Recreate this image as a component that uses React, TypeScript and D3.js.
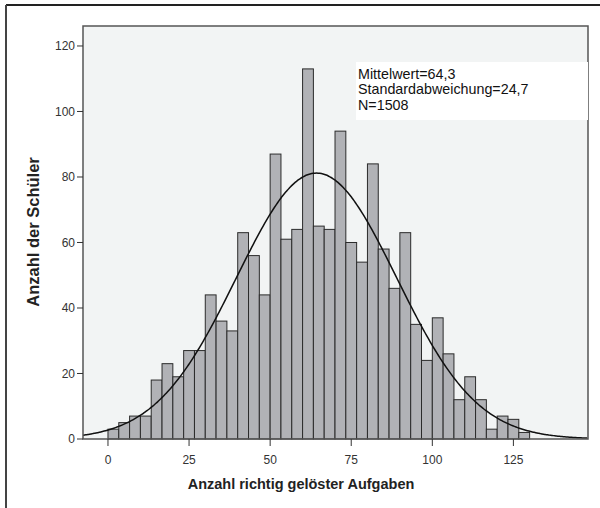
import React from "react";
import * as d3 from "d3";

const binWidth = 10 / 3;
const counts = [3, 5, 7, 7, 18, 23, 19, 27, 27, 44, 36, 33, 63, 56, 44, 87, 61, 64, 113, 65, 64, 94, 60, 54, 84, 58, 46, 63, 35, 24, 37, 26, 12, 19, 12, 3, 7, 6, 2];
const xTicks = [0, 25, 50, 75, 100, 125];
const yTicks = [0, 20, 40, 60, 80, 100, 120];
const mean = 64.3;
const sd = 24.7;
const total = 1508;
const legendLines = ["Mittelwert=64,3", "Standardabweichung=24,7", "N=1508"];

export default function App() {
  const W = 600, H = 508;
  const left = 83, right = 588, top = 26, bottom = 439;
  const x = d3.scaleLinear().domain([-7.7, 148]).range([left, right]);
  const y = d3.scaleLinear().domain([0, 126.1]).range([bottom, top]);
  const font = "Liberation Sans, Arial, sans-serif";

  const pdf = (v: number) =>
    (total * binWidth) / (sd * Math.sqrt(2 * Math.PI)) * Math.exp(-0.5 * ((v - mean) / sd) ** 2);
  const curvePts = d3.range(-7.7, 148.01, 0.5).map((v) => [v, pdf(v)] as [number, number]);
  const line = d3.line<[number, number]>().x((d) => x(d[0])).y((d) => y(d[1])).curve(d3.curveBasis);

  return (
    <svg width={W} height={H} style={{ position: "absolute", left: 0, top: 0, background: "#fff" }}>
      <rect x={0} y={0} width={W} height={H} fill="#fff" />
      <line x1={6} y1={5} x2={W} y2={5} stroke="#222" strokeWidth={2} />
      <line x1={6} y1={5} x2={6} y2={H} stroke="#444" strokeWidth={2} />
      <rect x={left} y={top} width={right - left} height={bottom - top} fill="#f2f4f4" />
      {counts.map((c, i) => (
        <rect
          key={i}
          x={x(i * binWidth)}
          y={y(c)}
          width={x((i + 1) * binWidth) - x(i * binWidth)}
          height={y(0) - y(c)}
          fill="#b1b2b6"
          stroke="#2b2b2b"
          strokeWidth={1}
        />
      ))}
      <clipPath id="clip">
        <rect x={left} y={top} width={right - left} height={bottom - top} />
      </clipPath>
      <path d={line(curvePts) || ""} fill="none" stroke="#111" strokeWidth={1.5} clipPath="url(#clip)" />
      <rect x={left} y={top} width={right - left} height={bottom - top} fill="none" stroke="#555" strokeWidth={1.5} />
      {yTicks.map((t) => (
        <g key={t}>
          <line x1={left - 6} x2={left} y1={y(t)} y2={y(t)} stroke="#333" />
          <text x={left - 8} y={y(t)} dy="0.35em" textAnchor="end" fontSize={12} fontFamily={font} fill="#333">
            {t}
          </text>
        </g>
      ))}
      {xTicks.map((t) => (
        <g key={t}>
          <line x1={x(t)} x2={x(t)} y1={bottom} y2={bottom + 7} stroke="#333" />
          <text x={x(t)} y={bottom + 25} textAnchor="middle" fontSize={12} fontFamily={font} fill="#333">
            {t}
          </text>
        </g>
      ))}
      <text x={301} y={489} textAnchor="middle" fontSize={14.5} fontWeight="bold" fontFamily={font} fill="#222">
        Anzahl richtig gelöster Aufgaben
      </text>
      <text
        transform={`translate(39,232) rotate(-90)`}
        textAnchor="middle"
        fontSize={16.5}
        fontWeight="bold"
        fontFamily={font}
        fill="#222"
      >
        Anzahl der Schüler
      </text>
      <rect x={356} y={62} width={right - 356} height={58} fill="#fff" />
      {legendLines.map((s, i) => (
        <text key={i} x={358} y={79 + i * 15.3} fontSize={14.3} fontFamily={font} fill="#111">
          {s}
        </text>
      ))}
    </svg>
  );
}
